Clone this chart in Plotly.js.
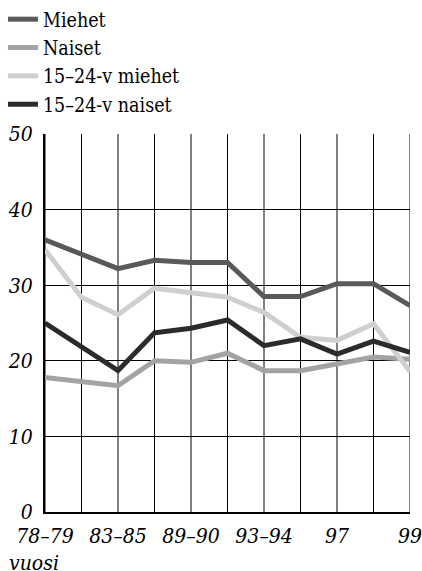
<!DOCTYPE html>
<html>
<head>
<meta charset="utf-8">
<script src="https://cdn.plot.ly/plotly-3.0.1.min.js"></script>
<style>html,body{margin:0;padding:0;background:#fff;}#chart{width:422px;height:571px;}</style>
</head>
<body>
<div id="chart"></div>
<script>
var categories = ["78–79", "", "83–85", "", "89–90", "", "93–94", "", "97", "", "99"];
var tickLabels = ["78–79", "83–85", "89–90", "93–94", "97", "99"];
var miehet = [36.0, 34.1, 32.2, 33.3, 33.0, 33.0, 28.5, 28.5, 30.2, 30.2, 27.3];
var naiset = [17.8, 17.2, 16.7, 20.0, 19.8, 21.0, 18.7, 18.7, 19.6, 20.5, 20.2];
var nuoretMiehet = [34.7, 28.4, 26.1, 29.6, 29.0, 28.4, 26.4, 23.1, 22.7, 24.9, 18.6];
var nuoretNaiset = [25.0, 21.9, 18.7, 23.7, 24.3, 25.4, 22.0, 22.9, 20.9, 22.6, 21.1];
var seriesNames = ["Miehet", "Naiset", "15–24-v miehet", "15–24-v naiset"];

var xIdx = categories.map(function(_, i){ return i; });
var tickVals = [];
categories.forEach(function(c, i){ if (c !== "") tickVals.push(i); });

var serif = "DejaVu Serif Condensed";
function tr(y, name, color){
  return {x: xIdx, y: y, name: name, type: "scatter", mode: "lines",
          line: {color: color, width: 5}, hoverinfo: "skip"};
}
var data = [
  tr(miehet, seriesNames[0], "#595959"),
  tr(naiset, seriesNames[1], "#a3a3a3"),
  tr(nuoretMiehet, seriesNames[2], "#cfcfcf"),
  tr(nuoretNaiset, seriesNames[3], "#2b2b2b")
];
var layout = {
  width: 422, height: 571,
  font: {family: serif},
  margin: {l: 45, r: 12, t: 134, b: 59, autoexpand: false},
  paper_bgcolor: "#fff", plot_bgcolor: "#fff",
  showlegend: true,
  legend: {xref: "container", yref: "container", x: 0.007, y: 1.005, xanchor: "left", yanchor: "top",
           font: {family: serif, size: 19.5, color: "#000"}, tracegroupgap: 0,
           bgcolor: "rgba(0,0,0,0)", itemwidth: 30},
  xaxis: {range: [0, 10], tickvals: tickVals, ticktext: tickLabels, tickangle: 0,
          showgrid: false, automargin: false, ticklabeloverflow: "allow",
          tickmode: "array", showline: true, linecolor: "#000", linewidth: 2,
          ticks: "", ticklabelstandoff: 4, zeroline: false,
          tickfont: {family: serif, size: 21, color: "#000", style: "italic"}},
  yaxis: {range: [0, 50], tickvals: [0, 10, 20, 30, 40, 50], automargin: false,
          showgrid: true, gridcolor: "#000", gridwidth: 1,
          showline: true, linecolor: "#000", linewidth: 2, zeroline: false,
          ticks: "", ticklabelstandoff: 6, ticklabeloverflow: "allow",
          tickfont: {family: serif, size: 21, color: "#000", style: "italic"}},
  shapes: [],
  annotations: [{xref: "paper", yref: "paper", x: -38/365, y: -65/378, xanchor: "left", yanchor: "bottom",
                 text: "vuosi", showarrow: false,
                 font: {family: serif, size: 21, color: "#000", style: "italic"}}]
};
layout.shapes = xIdx.map(function(i){
  return {type: "line", xref: "x", yref: "paper", x0: i, x1: i, y0: 0, y1: 1,
          line: {color: "#000", width: 1}, layer: "below"};
});
Plotly.newPlot("chart", data, layout, {staticPlot: true});
</script>
</body>
</html>
